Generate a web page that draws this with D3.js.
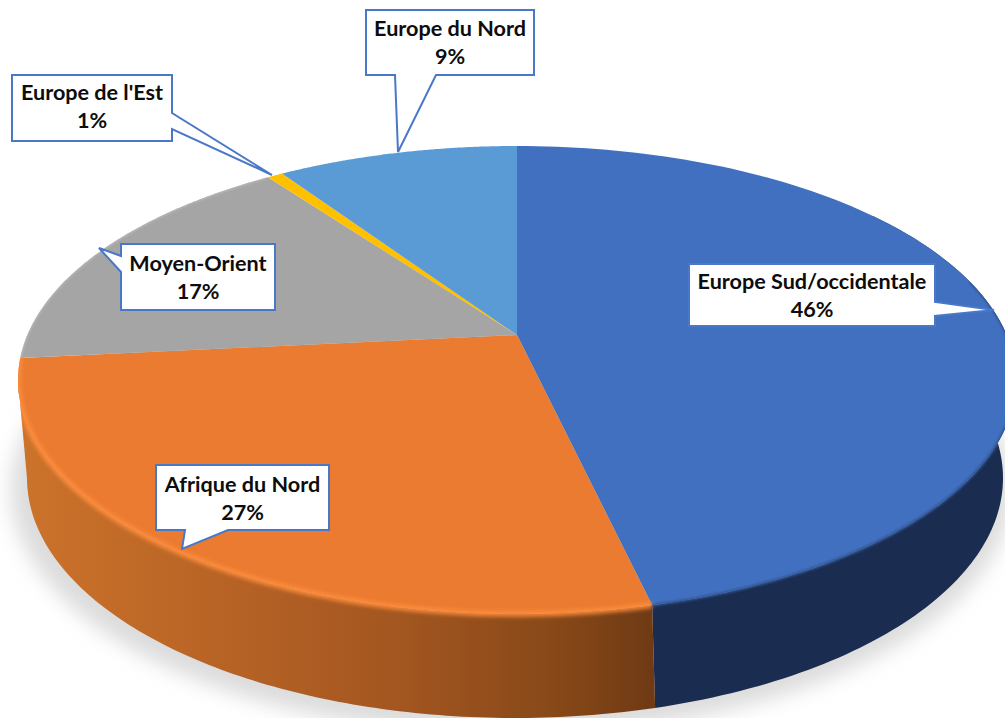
<!DOCTYPE html>
<meta charset="utf-8">
<style>
  html, body { margin: 0; padding: 0; background: #fff; overflow: hidden; }
  svg { display: block; }
  text { font-family: Lato, "Noto Sans", sans-serif; font-weight: 700; font-size: 21.6px; fill: #0d0d0d; text-anchor: middle; }
</style>
<script src="https://d3js.org/d3.v7.min.js"></script>
<div id="chart"></div>
<script>
    // data (labels show the rounded value)
    const categories = ["Europe Sud/occidentale", "Afrique du Nord", "Moyen-Orient", "Europe de l'Est", "Europe du Nord"];
    const values = [46.4, 27, 16.6, 0.6, 9.4];
    const colors = ["#4270c0", "#ea7b30", "#a5a5a5", "#ffc000", "#5b9bd5"];

    const width = 1005, height = 718;

    // top face and bottom edge of the disc, seen in perspective
    const topFace = {cx: 517, cy: 380, rx: 499, ry: 234, p: 0.1923};
    const bottomEdge = {cx: 515, cy: 478, rx: 488, ry: 240, p: 0.25};

    // circle -> ellipse, angle clockwise from the top, r = 0..1
    function project(e, a, r = 1) {
        const u = r * Math.sin(a), v = r * Math.cos(a), d = 1 + e.p * v;
        return [
            e.cx + e.rx * Math.sqrt(1 - e.p * e.p) * u / d,
            e.cy - e.ry * (v + e.p) / d
        ];
    }

    const line = d3.line();
    const rim = (e, a0, a1) => d3.range(0, 121).map(i => project(e, a0 + (a1 - a0) * i / 120));

    // angle where an ellipse reaches its left side
    const leftmost = e => d3.least(d3.range(Math.PI, 2 * Math.PI, 0.002), a => project(e, a)[0]);

    const svg = d3.select("#chart").append("svg")
        .attr("width", width)
        .attr("height", height);

    const defs = svg.append("defs");
    [["blur10", 10], ["blur2", 2], ["blur1", 0.9]].forEach(([id, s]) => {
        defs.append("filter").attr("id", id)
            .attr("x", "-10%").attr("y", "-10%").attr("width", "120%").attr("height", "120%")
            .append("feGaussianBlur").attr("stdDeviation", s);
    });

    const orangeWall = defs.append("linearGradient").attr("id", "orangeWall")
        .attr("gradientUnits", "userSpaceOnUse")
        .attr("x1", 18).attr("x2", 653).attr("y1", 0).attr("y2", 0);
    [[0, "#cc732b"], [0.3, "#b96426"], [0.6, "#a35620"], [0.85, "#874818"], [1, "#6f3a14"]].forEach(([o, c]) => {
        orangeWall.append("stop").attr("offset", o).attr("stop-color", c);
    });

    const arcs = d3.pie().sort(null).value(d => d)(values);

    // soft shadow under the disc
    svg.append("ellipse")
        .attr("cx", 511).attr("cy", 490)
        .attr("rx", 500).attr("ry", 244)
        .attr("fill", "#c4c4c4")
        .attr("opacity", 0.6)
        .attr("filter", "url(#blur10)");

    // side wall: only the two slices facing the viewer show one
    const blueWall = rim(topFace, Math.PI * 0.3, arcs[0].endAngle)
        .concat(rim(bottomEdge, Math.PI * 0.3, arcs[0].endAngle).reverse());
    const redWall = rim(topFace, arcs[1].startAngle, leftmost(topFace))
        .concat(rim(bottomEdge, arcs[1].startAngle, leftmost(bottomEdge)).reverse());
    svg.append("path").attr("d", line(blueWall) + "Z").attr("fill", "#1a2c50");
    svg.append("path").attr("d", line(redWall) + "Z").attr("fill", "url(#orangeWall)");

    // top face
    const apex = project(topFace, 0, 0);
    svg.selectAll("path.slice")
        .data(arcs)
        .join("path")
        .attr("class", "slice")
        .attr("d", d => line([apex, ...rim(topFace, d.startAngle, d.endAngle)]) + "Z")
        .attr("fill", (d, i) => colors[i]);

    // bevel along the rim, kept inside the disc
    const bevelClip = defs.append("clipPath").attr("id", "bevelClip");
    bevelClip.append("path").attr("d", line(rim(topFace, 0, 2 * Math.PI)) + "Z");
    bevelClip.append("path").attr("d", line(redWall) + "Z");
    bevelClip.append("path").attr("d", line(blueWall) + "Z");
    const bevel = svg.append("g").attr("clip-path", "url(#bevelClip)").attr("fill", "none");
    bevel.append("path")
        .attr("d", line(rim(topFace, arcs[1].startAngle, arcs[1].endAngle)))
        .attr("stroke", "#ff8e3c").attr("stroke-width", 5)
        .attr("filter", "url(#blur2)");
    bevel.append("path")
        .attr("d", line(rim(topFace, Math.PI * 0.42, arcs[0].endAngle)))
        .attr("stroke", "#2f528f").attr("stroke-width", 2.5)
        .attr("filter", "url(#blur1)");
    bevel.append("path")
        .attr("d", line(rim(topFace, arcs[2].startAngle, arcs[2].endAngle)))
        .attr("stroke", "#bdbdbd").attr("stroke-width", 2)
        .attr("filter", "url(#blur1)");

    // callouts: box [x0, y0, x1, y1], then the three pointer points
    const boxes = [[689, 264, 935, 326], [156, 465, 329, 530], [121, 244, 275, 310], [12, 75, 172, 141], [366, 10, 534, 75]];
    const pointers = [
        [[935, 302], [994, 310], [935, 316]],
        [[228, 530], [182, 549], [185, 530]],
        [[121, 272], [99, 248], [121, 256]],
        [[172, 113], [272, 175], [172, 129]],
        [[436, 75], [398, 152], [395, 75]]
    ];
    const firstBaseline = [25, 27, 27, 25, 26];

    categories.forEach((name, i) => {
        const [x0, y0, x1, y1] = boxes[i], ptr = pointers[i];
        // the pointer sits on one side of the box, walk the outline from there
        let pts;
        if (ptr[0][0] === x1 && ptr[2][0] === x1) pts = [[x0, y0], [x1, y0], ...ptr, [x1, y1], [x0, y1]];
        else if (ptr[0][0] === x0 && ptr[2][0] === x0) pts = [[x0, y0], [x1, y0], [x1, y1], [x0, y1], ...ptr];
        else pts = [[x0, y0], [x1, y0], [x1, y1], ...ptr, [x0, y1]];

        svg.append("path")
            .attr("d", line(pts) + "Z")
            .attr("fill", "#fff")
            .attr("stroke", "#4a78c8")
            .attr("stroke-width", 2)
            .attr("stroke-linejoin", "miter");

        const g = svg.append("text").attr("x", (x0 + x1) / 2);
        g.append("tspan").attr("x", (x0 + x1) / 2).attr("y", y0 + firstBaseline[i]).text(name);
        g.append("tspan").attr("x", (x0 + x1) / 2).attr("y", y0 + firstBaseline[i] + 28).text(Math.round(values[i]) + "%");
    });
</script>
